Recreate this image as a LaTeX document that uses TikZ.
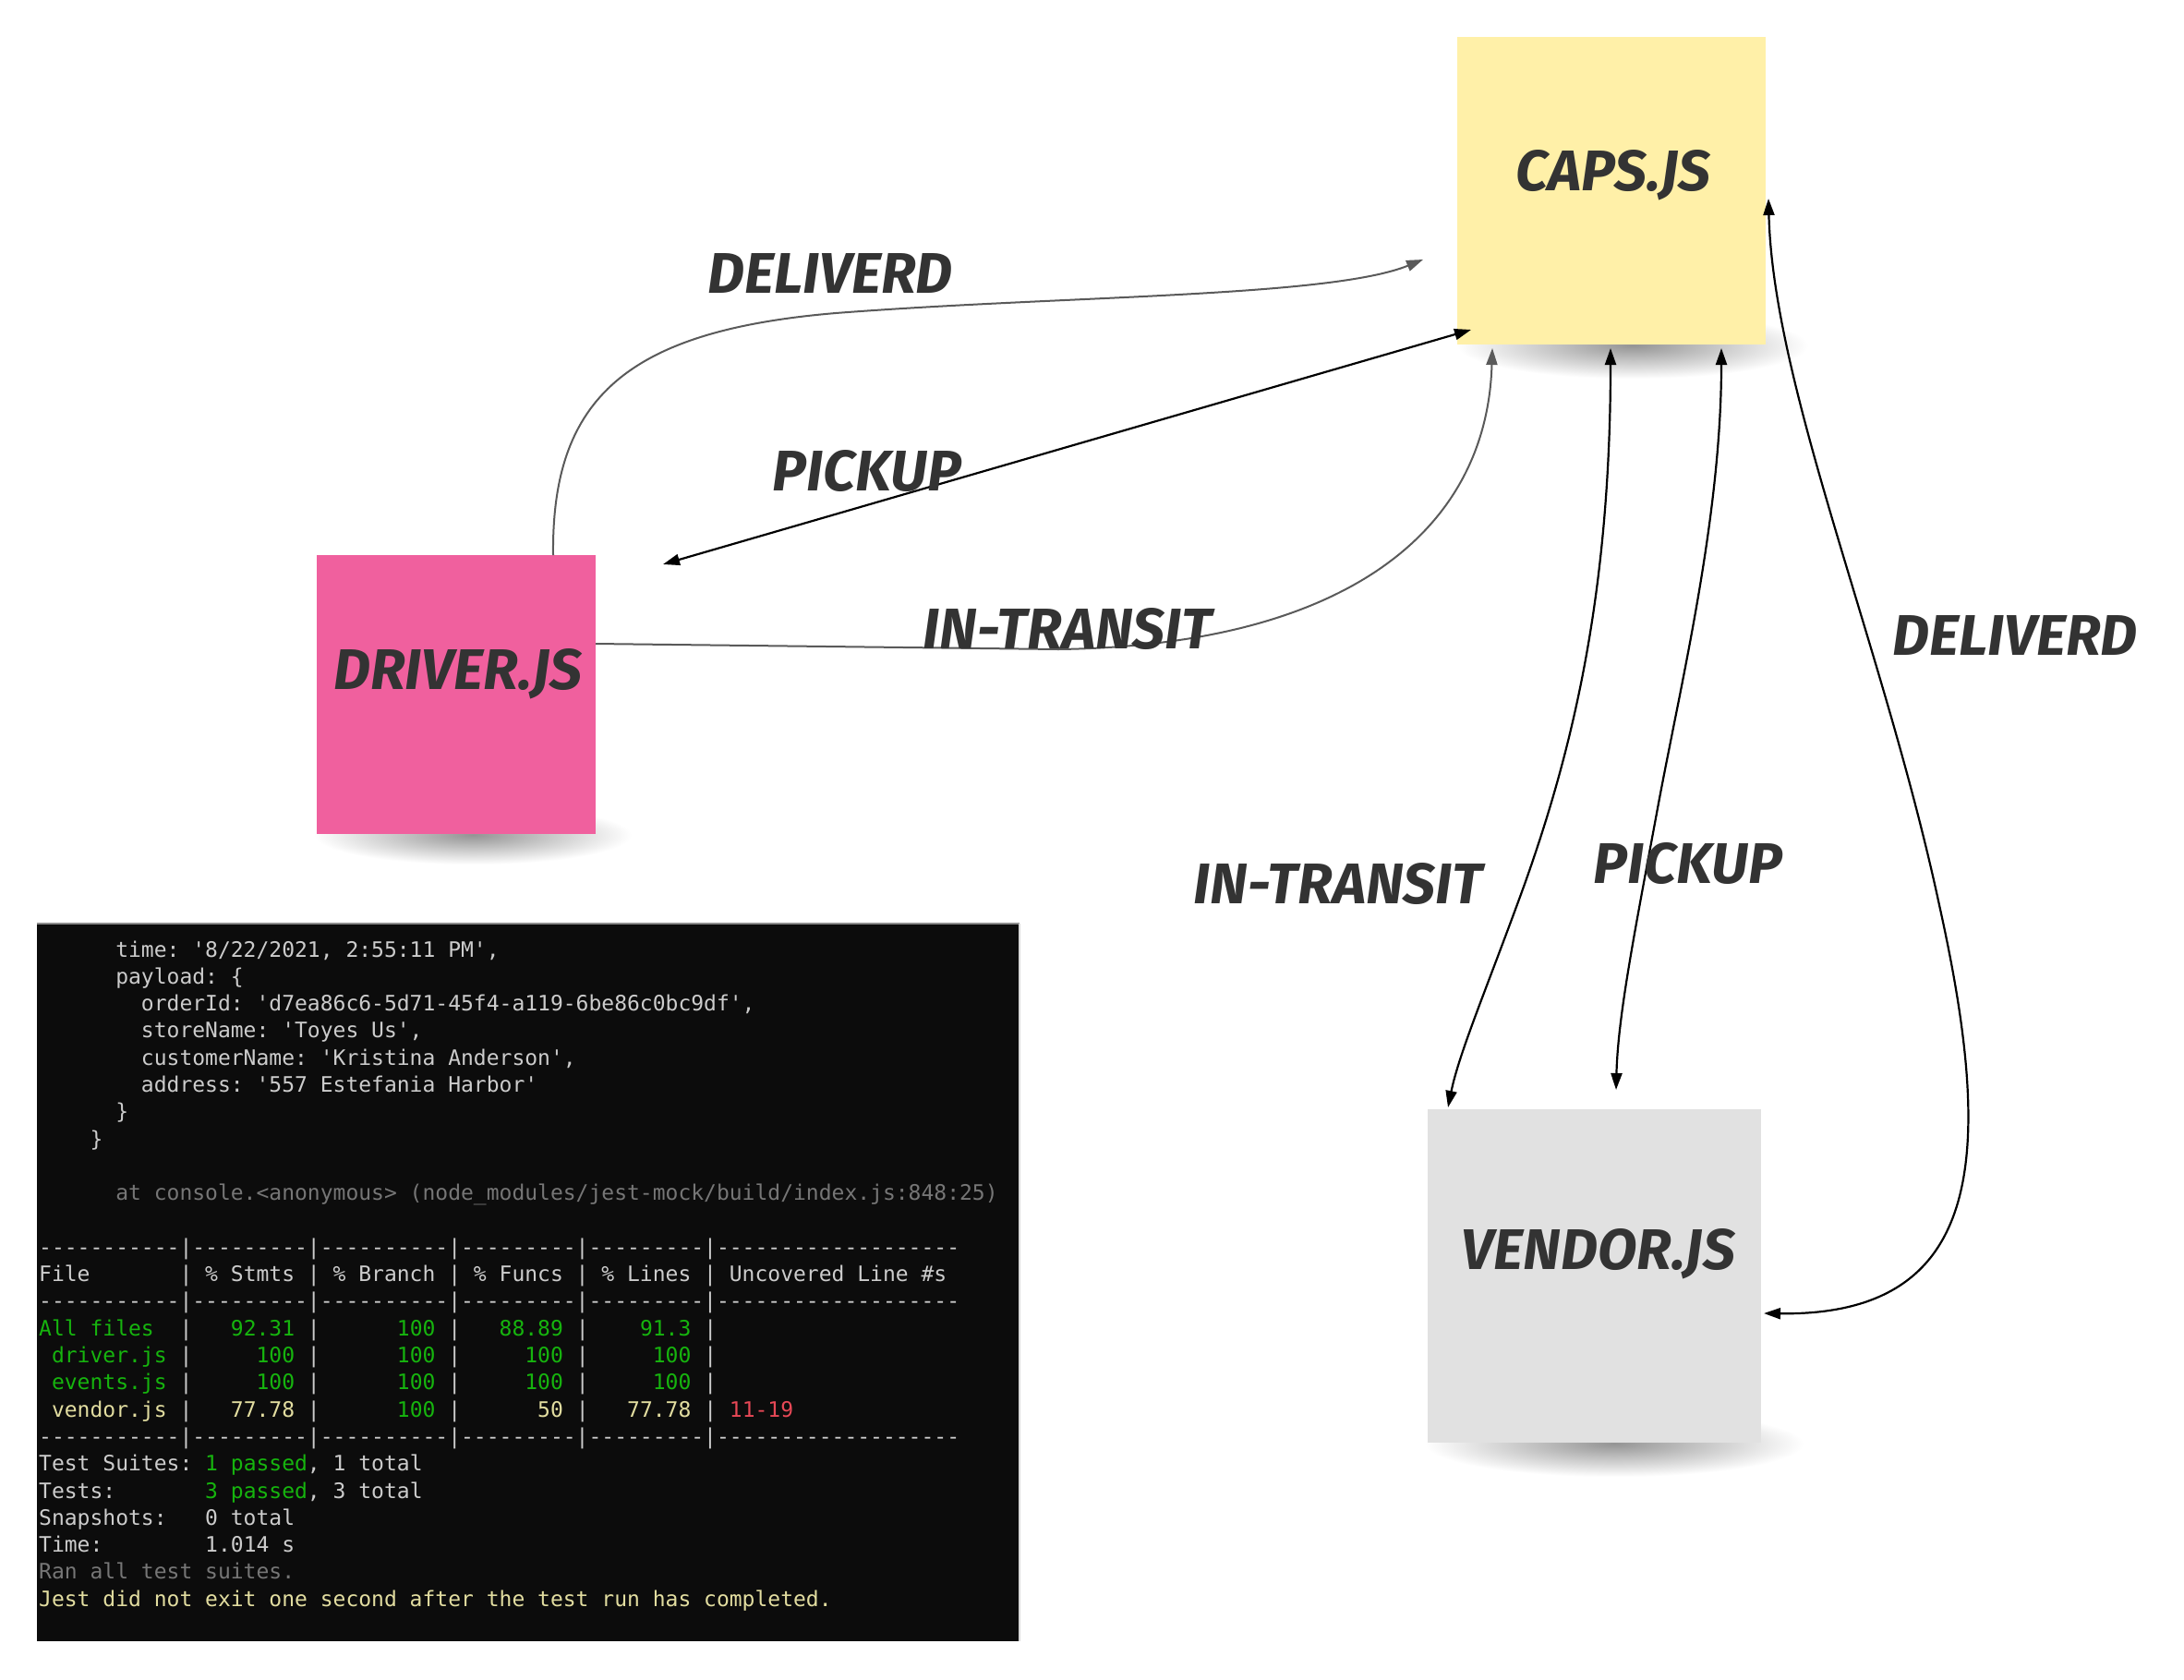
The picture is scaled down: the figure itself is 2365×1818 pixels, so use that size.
\documentclass[tikz,border=0pt]{standalone}
\usepackage{fontspec}
\setmonofont{DejaVu Sans Mono}
\newfontfamily\handfont{Fira Sans}
\usetikzlibrary{arrows.meta}
\definecolor{capsy}{HTML}{FFF0A8}
\definecolor{drvpink}{HTML}{F0609E}
\definecolor{vndgray}{HTML}{E1E1E1}
\definecolor{inkc}{HTML}{333333}
\definecolor{lineg}{HTML}{5A5A5A}
\definecolor{termbg}{HTML}{0C0C0C}
\definecolor{tw}{HTML}{CCCCCC}
\definecolor{tg}{HTML}{16B40E}
\definecolor{ty}{HTML}{E2DDA0}
\definecolor{tr}{HTML}{E74856}
\definecolor{tgr}{HTML}{767676}
\newcommand\sk[1]{\hskip #1\fontcharwd\font`0\relax}
\begin{document}
\begin{tikzpicture}[x=1pt,y=-1pt,
  sticky/.style={rectangle, inner sep=0pt, draw=none},
  boxlbl/.style={inner sep=0pt, text=inkc, font=\handfont\bfseries\itshape\fontsize{62}{70}\selectfont},
  edgelbl/.style={inner sep=0pt, text=inkc, font=\handfont\bfseries\itshape\fontsize{62}{70}\selectfont},
  blk/.style={draw=black, line width=2.2pt, {Triangle[length=18pt,width=12pt]}-{Triangle[length=18pt,width=12pt]}},
  gry/.style={draw=lineg, line width=2pt, -{Triangle[length=18pt,width=12pt]}},
  tline/.style={anchor=base west, inner sep=0pt, text=tw, font=\ttfamily\fontsize{23}{29}\selectfont},
  term/.style={rectangle, inner sep=0pt, fill=termbg, minimum width=1064pt, minimum height=777pt},
  shadowsh/.style={inner color=black!42, outer color=white}
]
\useasboundingbox[fill=white] (0,0) rectangle (2365,1818);

% shadows
\shade[shadowsh] (1768,374) ellipse [x radius=190pt, y radius=36pt];
\shade[shadowsh] (512,904) ellipse [x radius=172pt, y radius=32pt];
\shade[shadowsh] (1748,1563) ellipse [x radius=205pt, y radius=36pt];

% sticky notes
\node[sticky, fill=capsy, minimum width=334pt, minimum height=333pt] (caps) at (1745,206.5) {};
\node[sticky, fill=drvpink, minimum width=302pt, minimum height=302pt] (driver) at (494,752) {};
\node[sticky, fill=vndgray, minimum width=361pt, minimum height=361pt] (vendor) at (1726.5,1381.5) {};

\node[boxlbl] (capsl) at (1747,190) {CAPS.JS};
\node[boxlbl] (driverl) at (496,730) {DRIVER.JS};
\node[boxlbl] (vendorl) at (1731,1358) {VENDOR.JS};

% free ends
\coordinate (dtop) at (599,601);
\coordinate (dright) at (645,697);
\coordinate (pk1) at (718,611);
\coordinate (pk2) at (1593,357);
\coordinate (dl1) at (1541,281);
\coordinate (it1) at (1616,377);
\coordinate (vi1) at (1744,377);
\coordinate (vi2) at (1568,1199);
\coordinate (vp1) at (1864,377);
\coordinate (vp2) at (1750,1180);
\coordinate (vd1) at (1915,215);
\coordinate (vd2) at (1910,1422);

% driver -> caps connectors
\draw[gry] (dtop) .. controls (597,430) and (680,358) .. (905,339)
  .. controls (1150,320) and (1440,322) .. (dl1);
\draw[blk] (pk1) -- (pk2);
\draw[gry] (dright) -- (1146,703) .. controls (1450,699) and (1610,580) .. (it1);

% caps <-> vendor connectors
\draw[blk] (vi1) .. controls (1744,650) and (1700,820) .. (1650,960)
  .. controls (1610,1070) and (1580,1140) .. (vi2);
\draw[blk] (vp1) .. controls (1864,560) and (1820,740) .. (1795,875)
  .. controls (1770,1010) and (1752,1100) .. (vp2);
\draw[blk] (vd1) .. controls (1920,420) and (2040,700) .. (2100,980)
  .. controls (2160,1250) and (2150,1425) .. (vd2);

% connector labels
\node[edgelbl] (l1) at (899,296) {DELIVERD};
\node[edgelbl] (l2) at (939,510) {PICKUP};
\node[edgelbl] (l3) at (1156,681) {IN-TRANSIT};
\node[edgelbl] (l4) at (1449,957) {IN-TRANSIT};
\node[edgelbl] (l5) at (1828,935) {PICKUP};
\node[edgelbl] (l6) at (2182,688) {DELIVERD};

% terminal
\node[term] (term) at (572,1388.5) {};
\draw[draw=black!45, line width=2pt] (term.north west) -- (term.north east);
\draw[draw=black!15, line width=1.5pt] (term.north east) -- (term.south east);

\node[tline] (t0) at (42,1036) {\sk{6}time: '8/22/2021, 2:55:11 PM',};
\node[tline] (t1) at (42,1065.3) {\sk{6}payload: \{};
\node[tline] (t2) at (42,1094.6) {\sk{8}orderId: 'd7ea86c6-5d71-45f4-a119-6be86c0bc9df',};
\node[tline] (t3) at (42,1123.9) {\sk{8}storeName: 'Toyes Us',};
\node[tline] (t4) at (42,1153.2) {\sk{8}customerName: 'Kristina Anderson',};
\node[tline] (t5) at (42,1182.5) {\sk{8}address: '557 Estefania Harbor'};
\node[tline] (t6) at (42,1211.8) {\sk{6}\}};
\node[tline] (t7) at (42,1241.1) {\sk{4}\}};
\node[tline, text=tgr] (t9) at (42,1299.7) {\sk{6}at console.<anonymous> (node\_modules/jest-mock/build/index.js:848:25)};
\node[tline] (t11) at (42,1358.3) {-----------|---------|----------|---------|---------|-------------------};
\node[tline] (t12) at (42,1387.6) {File\sk{7}| \% Stmts | \% Branch | \% Funcs | \% Lines | Uncovered Line \#s};
\node[tline] (t13) at (42,1416.9) {-----------|---------|----------|---------|---------|-------------------};
\node[tline] (t14) at (42,1446.2) {\textcolor{tg}{All files}\sk{2}|\sk{3}\textcolor{tg}{92.31} |\sk{6}\textcolor{tg}{100} |\sk{3}\textcolor{tg}{88.89} |\sk{4}\textcolor{tg}{91.3} |};
\node[tline] (t15) at (42,1475.5) {\sk{1}\textcolor{tg}{driver.js} |\sk{5}\textcolor{tg}{100} |\sk{6}\textcolor{tg}{100} |\sk{5}\textcolor{tg}{100} |\sk{5}\textcolor{tg}{100} |};
\node[tline] (t16) at (42,1504.8) {\sk{1}\textcolor{tg}{events.js} |\sk{5}\textcolor{tg}{100} |\sk{6}\textcolor{tg}{100} |\sk{5}\textcolor{tg}{100} |\sk{5}\textcolor{tg}{100} |};
\node[tline] (t17) at (42,1534.1) {\sk{1}\textcolor{ty}{vendor.js} |\sk{3}\textcolor{ty}{77.78} |\sk{6}\textcolor{tg}{100} |\sk{6}\textcolor{ty}{50} |\sk{3}\textcolor{ty}{77.78} | \textcolor{tr}{11-19}};
\node[tline] (t18) at (42,1563.4) {-----------|---------|----------|---------|---------|-------------------};
\node[tline] (t19) at (42,1592.7) {Test Suites: \textcolor{tg}{1 passed}, 1 total};
\node[tline] (t20) at (42,1622) {Tests:\sk{7}\textcolor{tg}{3 passed}, 3 total};
\node[tline] (t21) at (42,1651.3) {Snapshots:\sk{3}0 total};
\node[tline] (t22) at (42,1680.6) {Time:\sk{8}1.014 s};
\node[tline, text=tgr] (t23) at (42,1709.9) {Ran all test suites.};
\node[tline, text=ty] (t24) at (42,1739.2) {Jest did not exit one second after the test run has completed.};
\end{tikzpicture}
\end{document}
